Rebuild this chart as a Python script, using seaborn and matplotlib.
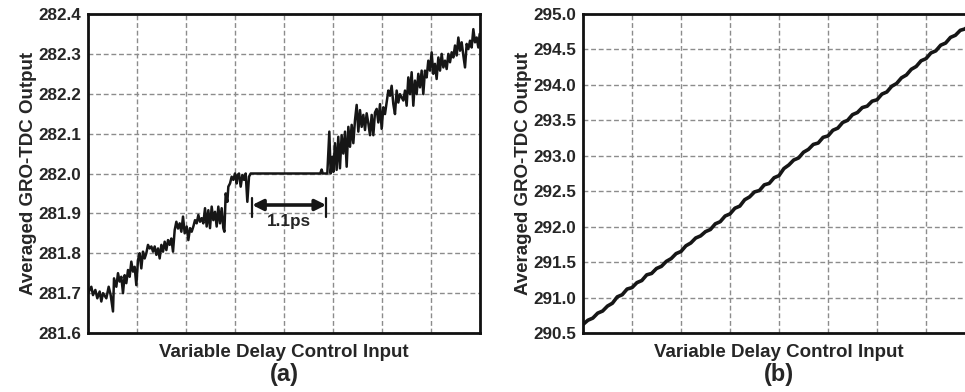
import matplotlib
matplotlib.use("Agg")
import matplotlib.pyplot as plt
import seaborn as sns
import pandas as pd

# ---------------- data ----------------
# panel (a): x in grid-division units (0..8), y = averaged output
x_a = [0.000, 0.068, 0.102, 0.150, 0.190, 0.238, 0.272, 0.306, 0.374, 0.422,
       0.463, 0.510, 0.531, 0.578, 0.612, 0.646, 0.680, 0.714, 0.748, 0.782,
       0.816, 0.850, 0.884, 0.918, 0.952, 0.986, 1.020, 1.054, 1.088, 1.122,
       1.156, 1.190, 1.224, 1.259, 1.293, 1.327, 1.361, 1.395, 1.429, 1.463,
       1.497, 1.531, 1.565, 1.599, 1.633, 1.667, 1.701, 1.735, 1.769, 1.803,
       1.837, 1.871, 1.905, 1.939, 1.973, 2.014, 2.048, 2.082, 2.116, 2.150,
       2.184, 2.218, 2.252, 2.286, 2.320, 2.354, 2.388, 2.422, 2.456, 2.490,
       2.524, 2.558, 2.592, 2.626, 2.660, 2.694, 2.728, 2.762, 2.783, 2.810,
       2.844, 2.864, 2.898, 2.932, 2.966, 3.000, 3.034, 3.055, 3.082, 3.116,
       3.150, 3.184, 3.218, 3.252, 3.286, 3.320, 4.740, 4.768, 4.790, 4.884,
       4.925, 4.952, 4.986, 5.006, 5.040, 5.074, 5.108, 5.142, 5.176, 5.210,
       5.245, 5.279, 5.313, 5.347, 5.381, 5.415, 5.449, 5.483, 5.517, 5.551,
       5.585, 5.619, 5.653, 5.687, 5.721, 5.755, 5.789, 5.823, 5.857, 5.891,
       5.925, 5.959, 5.993, 6.027, 6.061, 6.095, 6.129, 6.163, 6.197, 6.231,
       6.265, 6.299, 6.333, 6.367, 6.401, 6.435, 6.469, 6.503, 6.537, 6.571,
       6.605, 6.639, 6.673, 6.707, 6.741, 6.775, 6.809, 6.843, 6.877, 6.911,
       6.945, 6.979, 7.013, 7.047, 7.081, 7.115, 7.150, 7.184, 7.218, 7.252,
       7.286, 7.320, 7.354, 7.388, 7.422, 7.456, 7.490, 7.524, 7.558, 7.592,
       7.626, 7.660, 7.694, 7.728, 7.762, 7.796, 7.830, 7.864, 7.898, 7.932,
       7.966, 7.993]
y_a = [281.700, 281.716, 281.695, 281.708, 281.687, 281.704, 281.679, 281.700, 281.687, 281.716,
       281.695, 281.654, 281.737, 281.716, 281.750, 281.729, 281.741, 281.700, 281.745, 281.725,
       281.758, 281.741, 281.779, 281.754, 281.766, 281.720, 281.783, 281.800, 281.762, 281.804,
       281.787, 281.800, 281.821, 281.812, 281.817, 281.804, 281.817, 281.796, 281.812, 281.787,
       281.821, 281.804, 281.829, 281.808, 281.833, 281.821, 281.837, 281.804, 281.858, 281.879,
       281.862, 281.875, 281.854, 281.892, 281.850, 281.867, 281.833, 281.863, 281.854, 281.867,
       281.883, 281.875, 281.896, 281.879, 281.888, 281.875, 281.913, 281.867, 281.908, 281.863,
       281.917, 281.883, 281.904, 281.867, 281.917, 281.875, 281.913, 281.863, 281.854, 281.950,
       281.929, 281.967, 281.975, 281.992, 281.984, 282.000, 281.975, 281.996, 282.000, 281.967,
       281.996, 281.984, 282.000, 281.929, 281.992, 282.000, 282.000, 282.010, 282.000, 282.000,
       282.105, 282.000, 282.042, 282.004, 282.076, 282.009, 282.092, 282.013, 282.096, 282.050,
       282.105, 282.017, 282.117, 282.067, 282.122, 282.076, 282.134, 282.172, 282.105, 282.159,
       282.117, 282.147, 282.109, 282.151, 282.126, 282.096, 282.147, 282.096, 282.153, 282.162,
       282.128, 282.174, 282.112, 282.166, 282.149, 282.178, 282.208, 282.195, 282.220, 282.174,
       282.149, 282.208, 282.178, 282.199, 282.191, 282.183, 282.208, 282.170, 282.241, 282.199,
       282.254, 282.170, 282.233, 282.199, 282.250, 282.216, 282.258, 282.199, 282.258, 282.241,
       282.283, 282.258, 282.304, 282.250, 282.275, 282.237, 282.291, 282.258, 282.300, 282.266,
       282.283, 282.262, 282.300, 282.279, 282.304, 282.291, 282.321, 282.296, 282.341, 282.308,
       282.329, 282.296, 282.266, 282.325, 282.312, 282.333, 282.316, 282.362, 282.329, 282.341,
       282.316, 282.350]

# panel (b)
x_b = [0.0, 0.1, 0.2, 0.3, 0.4, 0.5, 0.6, 0.7, 0.8, 0.9, 1.0, 1.1, 1.2, 1.3, 1.4,
       1.5, 1.6, 1.7, 1.8, 1.9, 2.0, 2.1, 2.2, 2.3, 2.4, 2.5, 2.6, 2.7, 2.8, 2.9,
       3.0, 3.1, 3.2, 3.3, 3.4, 3.5, 3.6, 3.7, 3.8, 3.9, 4.0, 4.1, 4.2, 4.3, 4.4,
       4.5, 4.6, 4.7, 4.8, 4.9, 5.0, 5.1, 5.2, 5.3, 5.4, 5.5, 5.6, 5.7, 5.8, 5.9,
       6.0, 6.1, 6.2, 6.3, 6.4, 6.5, 6.6, 6.7, 6.8, 6.9, 7.0, 7.1, 7.2, 7.3, 7.4,
       7.5, 7.6, 7.7, 7.8, 7.9, 8.0]
y_b = [290.62, 290.68, 290.71, 290.78, 290.81, 290.88, 290.92, 291.01, 291.04, 291.12,
       291.14, 291.21, 291.24, 291.32, 291.34, 291.41, 291.44, 291.51, 291.55, 291.62,
       291.65, 291.73, 291.77, 291.84, 291.87, 291.93, 291.96, 292.04, 292.07, 292.15,
       292.18, 292.26, 292.29, 292.38, 292.42, 292.49, 292.51, 292.59, 292.61, 292.69,
       292.72, 292.82, 292.87, 292.94, 292.97, 293.05, 293.09, 293.16, 293.18, 293.26,
       293.28, 293.36, 293.39, 293.47, 293.50, 293.58, 293.61, 293.68, 293.70, 293.77,
       293.79, 293.87, 293.90, 293.98, 294.02, 294.10, 294.14, 294.22, 294.26, 294.34,
       294.37, 294.45, 294.48, 294.56, 294.59, 294.67, 294.70, 294.77, 294.79, 294.86,
       294.88]

yticks_a = [281.6, 281.7, 281.8, 281.9, 282.0, 282.1, 282.2, 282.3, 282.4]
yticks_b = [290.5, 291.0, 291.5, 292.0, 292.5, 293.0, 293.5, 294.0, 294.5, 295.0]
xgrid = [0, 1, 2, 3, 4, 5, 6, 7, 8]

ylabel = "Averaged GRO-TDC Output"
xlabel = "Variable Delay Control Input"
panel_tags = ["(a)", "(b)"]
gap_label = "1.1ps"
gap_start, gap_end, gap_y = 3.35, 4.86, 281.921

# ---------------- style ----------------
sns.set_theme(style="white")
plt.rcParams["font.family"] = ["Liberation Sans", "DejaVu Sans"]
plt.rcParams["font.weight"] = "bold"

fig = plt.figure(figsize=(9.65, 3.92), dpi=100)
W, H = 965, 392
ax_a = fig.add_axes([88 / W, (H - 333) / H, 392 / W, 319 / H])
ax_b = fig.add_axes([583 / W, (H - 333) / H, 392 / W, 319 / H])

LINE = "#161616"
GRID = "#8c8c8c"

df_a = pd.DataFrame({"x": x_a, "y": y_a})
df_b = pd.DataFrame({"x": x_b, "y": y_b})
sns.lineplot(data=df_a, x="x", y="y", ax=ax_a, color=LINE, linewidth=1.8, sort=False)
sns.lineplot(data=df_b, x="x", y="y", ax=ax_b, color=LINE, linewidth=2.6, sort=False)

for ax, yt in ((ax_a, yticks_a), (ax_b, yticks_b)):
    ax.set_xlim(xgrid[0], xgrid[-1])
    ax.set_ylim(yt[0], yt[-1])
    ax.set_xticks(xgrid)
    ax.set_xticklabels([])
    ax.set_yticks(yt)
    ax.set_yticklabels([f"{v:.1f}" for v in yt], fontsize=12.3, fontweight="bold")
    ax.tick_params(length=0, pad=5)
    ax.grid(True, color=GRID, linestyle=(0, (3.5, 2)), linewidth=1.0)
    ax.set_axisbelow(True)
    for s in ax.spines.values():
        s.set_color("#111111")
        s.set_linewidth(2.0)
        s.set_visible(True)
    ax.set_xlabel("")
    ax.set_ylabel(ylabel, fontsize=13.5, fontweight="bold", labelpad=1)
    ax.text(0.5, -0.062, xlabel, transform=ax.transAxes, ha="center", va="center",
            fontsize=13.5, fontweight="bold")

ax_a.text(0.5, -0.13, panel_tags[0], transform=ax_a.transAxes, ha="center",
          va="center", fontsize=17, fontweight="bold")
ax_b.text(0.5, -0.13, panel_tags[1], transform=ax_b.transAxes, ha="center",
          va="center", fontsize=17, fontweight="bold")

# gap annotation
ax_a.annotate("", xy=(gap_end, gap_y), xytext=(gap_start, gap_y),
              arrowprops=dict(arrowstyle="<|-|>", color=LINE, lw=2.6,
                              mutation_scale=16, shrinkA=0, shrinkB=0))
for gx in (gap_start, gap_end):
    ax_a.plot([gx, gx], [gap_y - 0.03, gap_y + 0.017], color=LINE, lw=1.6)
ax_a.text((gap_start + gap_end) / 2, gap_y - 0.042, gap_label, ha="center",
          va="center", fontsize=12.3, fontweight="bold")

fig.savefig("out.png", dpi=100)
